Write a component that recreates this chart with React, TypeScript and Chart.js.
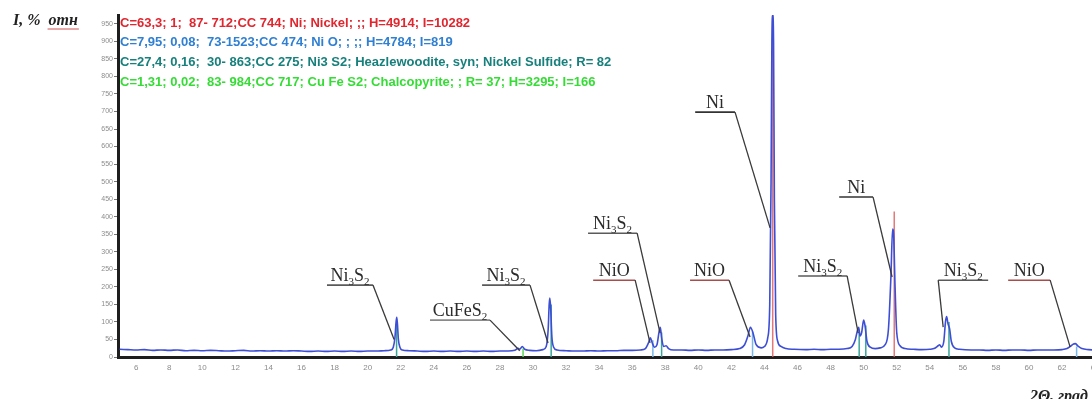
import React, { useEffect, useRef } from 'react';
import { Chart, registerables } from 'chart.js';

Chart.register(...registerables);

// ---- measured diffraction trace (2θ, intensity) ----
const twoTheta = [
  5.0, 5.5, 6.0, 6.5, 7.0, 7.5, 8.0, 8.5, 9.0, 9.5, 10.0, 10.5, 11.0, 11.5, 12.0, 12.5, 13.0, 13.5, 14.0, 14.5,
  15.0, 15.5, 16.0, 16.5, 17.0, 17.5, 18.0, 18.5, 19.0, 19.5, 20.0, 20.5, 21.0, 21.4, 21.55, 21.65, 21.72, 21.76, 21.8, 21.86,
  21.95, 22.1, 22.5, 23.0, 23.5, 24.0, 24.5, 25.0, 25.5, 26.0, 26.5, 27.0, 27.5, 28.0, 28.5, 28.9, 29.1, 29.2, 29.35, 29.5,
  29.8, 30.2, 30.6, 30.8, 30.92, 30.98, 31.02, 31.07, 31.14, 31.25, 31.45, 32.0, 32.5, 33.0, 33.5, 34.0, 34.5, 35.0, 35.5, 36.0,
  36.5, 36.8, 37.0, 37.1, 37.2, 37.35, 37.5, 37.62, 37.7, 37.78, 37.9, 38.05, 38.2, 38.5, 39.0, 39.5, 40.0, 40.5, 41.0, 41.5,
  42.0, 42.5, 42.8, 43.0, 43.15, 43.3, 43.5, 43.8, 44.0, 44.2, 44.32, 44.4, 44.45, 44.5, 44.55, 44.6, 44.68, 44.8, 45.0, 45.3,
  45.8, 46.5, 47.0, 47.5, 48.0, 48.5, 49.0, 49.3, 49.5, 49.62, 49.7, 49.78, 49.88, 50.0, 50.08, 50.2, 50.4, 50.7, 51.0, 51.3,
  51.5, 51.65, 51.75, 51.82, 51.9, 52.0, 52.2, 52.5, 53.0, 53.5, 54.0, 54.3, 54.5, 54.6, 54.7, 54.85, 54.95, 55.02, 55.1, 55.2,
  55.3, 55.5, 55.8, 56.5, 57.0, 57.5, 58.0, 58.5, 59.0, 59.5, 60.0, 60.5, 61.0, 61.5, 62.0, 62.3, 62.5, 62.65, 62.8, 62.95,
  63.2, 63.6, 64.0, 64.5, 64.9,
];
const intensity = [
  22, 21, 20, 21, 19, 20, 19, 20, 18, 19, 18, 19, 18, 17, 18, 19, 17, 18, 17, 18,
  17, 18, 17, 16, 17, 16, 17, 16, 17, 16, 17, 17, 18, 20, 28, 55, 100, 113, 95, 50,
  28, 20, 18, 17, 16, 17, 16, 17, 16, 17, 16, 17, 16, 17, 17, 19, 25, 22, 30, 22,
  19, 18, 21, 30, 80, 150, 168, 140, 60, 28, 20, 18, 17, 17, 18, 17, 18, 18, 19, 19,
  20, 24, 42, 55, 42, 28, 35, 70, 85, 55, 30, 32, 24, 20, 20, 19, 20, 19, 20, 20,
  21, 24, 35, 60, 85, 70, 35, 26, 30, 55, 150, 500, 900, 975, 900, 450, 120, 45, 30, 24,
  22, 21, 22, 21, 22, 22, 24, 30, 50, 75, 85, 60, 70, 105, 90, 45, 28, 24, 26, 35,
  80, 230, 365, 340, 200, 70, 32, 24, 22, 21, 22, 25, 32, 35, 28, 45, 100, 115, 95, 80,
  45, 26, 22, 20, 20, 19, 20, 19, 20, 20, 19, 20, 20, 20, 21, 24, 30, 36, 38, 32,
  24, 21, 20, 20, 20,
];

// ---- reference card lines (position, height) ----
const nickelPos = [44.5, 51.85];
const nickelHeight = [975, 415];
const nioPos = [37.25, 43.28, 62.88];
const nioHeight = [48, 72, 30];
const ni3s2Pos = [21.75, 31.1, 37.78, 49.73, 50.13, 55.16];
const ni3s2Height = [95, 150, 70, 72, 90, 100];
const cufes2Pos = [29.4];
const cufes2Height = [24];

// ---- axis ticks ----
const yTicks = [0, 50, 100, 150, 200, 250, 300, 350, 400, 450, 500, 550, 600, 650, 700, 750, 800, 850, 900, 950];
const xTicks = [6, 8, 10, 12, 14, 16, 18, 20, 22, 24, 26, 28, 30, 32, 34, 36, 38, 40, 42, 44, 46, 48, 50, 52, 54, 56, 58, 60, 62, 64];

// ---- phase legend text ----
const legendLines = [
  'C=63,3; 1;  87- 712;CC 744; Ni; Nickel; ;; H=4914; I=10282',
  'C=7,95; 0,08;  73-1523;CC 474; Ni O; ; ;; H=4784; I=819',
  'C=27,4; 0,16;  30- 863;CC 275; Ni3 S2; Heazlewoodite, syn; Nickel Sulfide; R= 82',
  'C=1,31; 0,02;  83- 984;CC 717; Cu Fe S2; Chalcopyrite; ; R= 37; H=3295; I=166',
];
const legendColors = ['#e0262e', '#2f7fd2', '#17807c', '#36dc36'];

// ---- peak labels (data coordinates) ----
const peakLabels = ['Ni3S2', 'CuFeS2', 'Ni3S2', 'Ni3S2', 'NiO', 'NiO', 'Ni', 'Ni3S2', 'Ni', 'Ni3S2', 'NiO'];
const labelFrom = [17.54, 23.77, 26.92, 33.33, 33.64, 39.5, 39.81, 46.04, 48.52, 54.51, 58.74];
const labelTo = [20.32, 27.4, 29.82, 36.3, 36.18, 41.86, 42.22, 49.0, 50.57, 57.53, 61.28];
const labelLevel = [205, 105, 205, 353, 219, 219, 698, 231, 456, 219, 219];
const pointerX = [21.6, 29.2, 30.91, 37.69, 37.08, 43.13, 44.34, 49.67, 51.72, 54.81, 62.49];
const pointerY = [50, 18, 40, 68, 40, 57, 368, 68, 228, 85, 28];
const pointerFrom = ['end', 'end', 'end', 'end', 'end', 'end', 'end', 'end', 'end', 'start', 'end'];

const underlineColor: Record<string, string> = {
  NiO: '#a84c4c',
  CuFeS2: '#8a8a8a',
  Ni3S2: '#5a5a5a',
  Ni: '#333333',
};

function sticks(pos: number[], h: number[]) {
  const out: { x: number; y: number | null }[] = [];
  pos.forEach((p, i) => {
    out.push({ x: p, y: 0 }, { x: p, y: h[i] }, { x: p, y: null });
  });
  return out;
}

function drawFormula(ctx: CanvasRenderingContext2D, text: string, cx: number, baseline: number, size: number) {
  const parts = text.match(/[A-Za-z]+|\d+/g) || [];
  let w = 0;
  const segs = parts.map((p) => {
    const sub = /\d/.test(p);
    ctx.font = `${sub ? Math.round(size * 0.62) : size}px "Liberation Serif"`;
    const pw = ctx.measureText(p).width;
    w += pw;
    return { p, sub, pw };
  });
  let x = cx - w / 2;
  segs.forEach((s) => {
    ctx.font = `${s.sub ? Math.round(size * 0.62) : size}px "Liberation Serif"`;
    ctx.fillText(s.p, x, s.sub ? baseline + size * 0.2 : baseline);
    x += s.pw;
  });
}

const overlayPlugin = {
  id: 'overlay',
  afterDatasetsDraw(chart: any) {
    const ctx: CanvasRenderingContext2D = chart.ctx;
    const xs = chart.scales.x;
    const ys = chart.scales.y;
    ctx.save();
    peakLabels.forEach((lab, i) => {
      const x1 = xs.getPixelForValue(labelFrom[i]);
      const x2 = xs.getPixelForValue(labelTo[i]);
      const y = ys.getPixelForValue(labelLevel[i]);
      const px = xs.getPixelForValue(pointerX[i]);
      const py = ys.getPixelForValue(pointerY[i]);
      ctx.strokeStyle = underlineColor[lab] || '#444';
      ctx.lineWidth = 1.6;
      ctx.beginPath();
      ctx.moveTo(x1, y);
      ctx.lineTo(x2, y);
      ctx.stroke();
      ctx.strokeStyle = '#3a3a3a';
      ctx.lineWidth = 1.3;
      ctx.beginPath();
      const sx = pointerFrom[i] === 'start' ? x1 : x2;
      ctx.moveTo(sx, y);
      ctx.lineTo(px, py);
      ctx.stroke();
      ctx.fillStyle = '#2b2b2b';
      ctx.textBaseline = 'alphabetic';
      drawFormula(ctx, lab, (x1 + x2) / 2, y - 4, 18);
    });
    ctx.restore();
  },
  afterDraw(chart: any) {
    const ctx: CanvasRenderingContext2D = chart.ctx;
    ctx.save();
    ctx.font = 'bold 13px "Liberation Sans"';
    ctx.textBaseline = 'middle';
    legendLines.forEach((t, i) => {
      ctx.fillStyle = legendColors[i];
      ctx.fillText(t, 120, 23 + i * 19.7);
    });
    ctx.fillStyle = '#222';
    ctx.textBaseline = 'alphabetic';
    ctx.font = 'italic bold 16px "Liberation Serif"';
    const t1 = 'I, % ';
    ctx.fillText(t1, 13, 25);
    const w1 = ctx.measureText(t1).width;
    ctx.fillText('отн', 13 + w1 + 4, 25);
    const w2 = ctx.measureText('отн').width;
    ctx.strokeStyle = '#d05050';
    ctx.lineWidth = 1;
    ctx.beginPath();
    ctx.moveTo(13 + w1 + 3, 29);
    ctx.lineTo(13 + w1 + 5 + w2, 29);
    ctx.stroke();
    ctx.fillText('2Θ, град', 1030, 401);
    ctx.restore();
  },
};

export default function App() {
  const ref = useRef<HTMLCanvasElement | null>(null);
  useEffect(() => {
    if (!ref.current) return;
    const trace = twoTheta.map((x, i) => ({ x, y: intensity[i] }));
    const chart = new Chart(ref.current, {
      type: 'scatter',
      data: {
        datasets: [
          {
            data: trace,
            showLine: true,
            borderColor: '#3d4ed6',
            borderWidth: 1.6,
            pointRadius: 0,
            cubicInterpolationMode: 'monotone',
          } as any,
          { data: sticks(nickelPos, nickelHeight), showLine: true, borderColor: 'rgba(225,95,95,0.85)', borderWidth: 1.5, pointRadius: 0 } as any,
          { data: sticks(nioPos, nioHeight), showLine: true, borderColor: '#7ab8ec', borderWidth: 1.5, pointRadius: 0 } as any,
          { data: sticks(ni3s2Pos, ni3s2Height), showLine: true, borderColor: '#3aa59a', borderWidth: 1.5, pointRadius: 0 } as any,
          { data: sticks(cufes2Pos, cufes2Height), showLine: true, borderColor: '#5ad85a', borderWidth: 1.5, pointRadius: 0 } as any,
        ],
      },
      options: {
        responsive: false,
        animation: false,
        layout: { padding: { top: 15, right: 0, left: 0, bottom: 0 } },
        plugins: { legend: { display: false }, tooltip: { enabled: false } },
        scales: {
          x: {
            type: 'linear',
            min: 4.9,
            max: 64.9,
            offset: false,
            afterBuildTicks: (s: any) => {
              s.ticks = xTicks.map((v) => ({ value: v }));
            },
            afterFit: (s: any) => {
              s.height = 42;
            },
            grid: { display: false, drawTicks: false, tickLength: 0 },
            border: { display: true, color: '#1e1e1e', width: 3 },
            ticks: { color: '#8c8c8c', font: { size: 8, family: 'Liberation Sans' }, padding: 6, maxRotation: 0, autoSkip: false },
          },
          y: {
            type: 'linear',
            min: 0,
            max: 975,
            afterBuildTicks: (s: any) => {
              s.ticks = yTicks.map((v) => ({ value: v }));
            },
            afterFit: (s: any) => {
              s.width = 118;
            },
            grid: { display: true, drawOnChartArea: false, tickLength: 4, color: '#777' },
            border: { display: true, color: '#1e1e1e', width: 3 },
            ticks: { color: '#8c8c8c', font: { size: 7, family: 'Liberation Sans' }, padding: 1, autoSkip: false },
          },
        },
      },
      plugins: [overlayPlugin],
    });
    return () => chart.destroy();
  }, []);
  return (
    <div style={{ position: 'absolute', left: 0, top: 0, width: 1092, height: 399, overflow: 'hidden', background: '#fff' }}>
      <canvas ref={ref} width={1110} height={399} />
    </div>
  );
}
